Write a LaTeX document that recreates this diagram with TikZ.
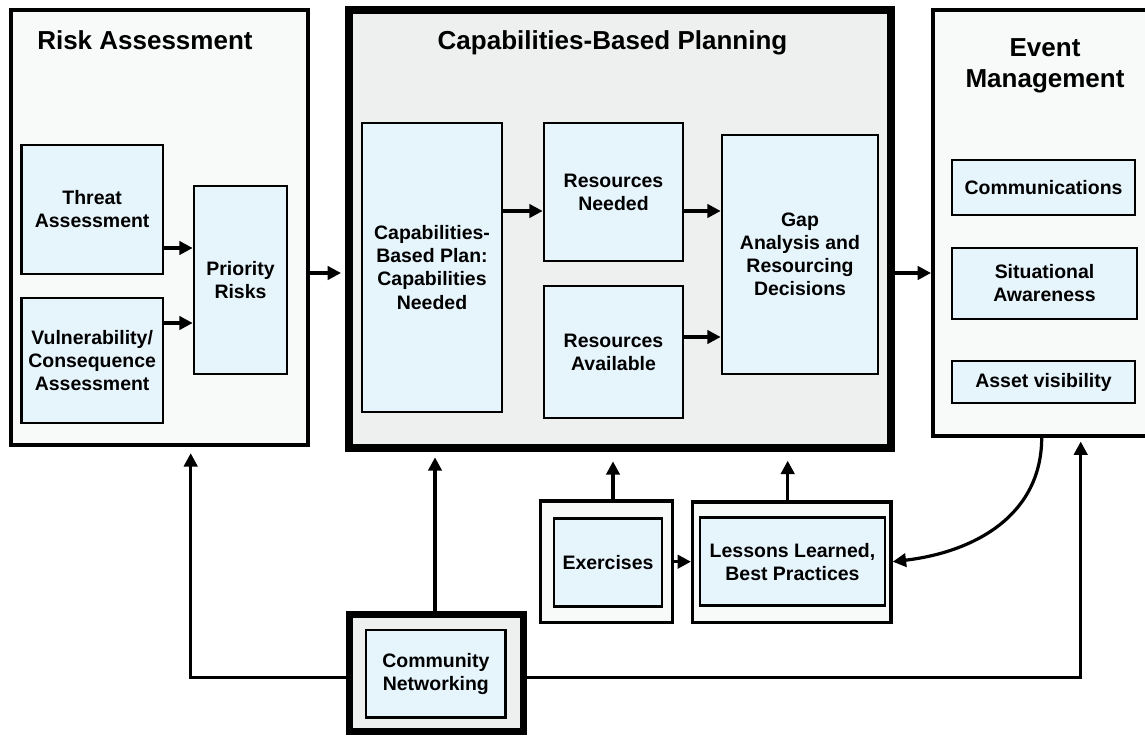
\documentclass[tikz,border=0pt]{standalone}
\usepackage{fontspec}
\setmainfont{Liberation Sans}
\usetikzlibrary{arrows.meta,fit}
\definecolor{inblue}{RGB}{230,244,252}
\definecolor{palegrey}{RGB}{248,249,249}
\definecolor{midgrey}{RGB}{238,239,239}
\newcommand{\ttlfnt}{\bfseries\fontsize{19.5pt}{23.25pt}\selectfont}
\newcommand{\boxfnt}{\bfseries\fontsize{14.6pt}{17.3pt}\selectfont}
\begin{document}
\begin{tikzpicture}[x=0.75pt,y=-0.75pt,
  inbox/.style={draw=black, fill=inblue, line width=2pt, inner sep=0pt},
  boxtxt/.style={inner sep=0pt, align=center, font=\boxfnt},
  palebox/.style={draw=black, fill=palegrey, inner sep=0pt},
  midbox/.style={draw=black, fill=midgrey, inner sep=0pt},
  ttl/.style={inner sep=0pt, align=center, font=\ttlfnt},
  arr/.style={line width=2.4pt, -{Triangle[length=10pt,width=10pt]}}]
\useasboundingbox (0,0) rectangle (1145,735);
\clip (0,0) rectangle (1145,735);
\fill[white] (0,0) rectangle (1145,735);

% Risk Assessment
\node[palebox, line width=3pt, fit={(10.5,10.5)(307.5,444.5)}] (ra) {};
\node[ttl, anchor=base west] (rat) at (37,50) {Risk Assessment};
\node[inbox, fit={(21.3,145)(163,274)}] (ta) {};
\node[boxtxt] (tat) at (ta) {Threat\\Assessment};
\node[inbox, fit={(21.3,298)(163,423)}] (va) {};
\node[boxtxt] (vat) at (va) {Vulnerability/\\Consequence\\Assessment};
\node[inbox, fit={(194,186)(287,374)}] (pr) {};
\node[boxtxt] (prt) at (pr) {Priority\\Risks};

% Capabilities-Based Planning
\node[midbox, line width=6pt, fit={(349,10)(891,448)}] (cbp) {};
\node[ttl, anchor=base] (cbpt) at (612.5,50) {Capabilities-Based Planning};
\node[inbox, fit={(362,123)(502,412)}] (cp) {};
\node[boxtxt] (cpt) at (cp) {Capabilities-\\Based Plan:\\Capabilities\\Needed};
\node[inbox, fit={(544,123)(683,261)}] (rn) {};
\node[boxtxt] (rnt) at (rn) {Resources\\Needed};
\node[inbox, fit={(544,286)(683,418)}] (rav) {};
\node[boxtxt] (ravt) at (rav) {Resources\\Available};
\node[inbox, fit={(722,135)(878,374)}] (gap) {};
\node[boxtxt] (gapt) at (gap) {Gap\\Analysis and\\Resourcing\\Decisions};

% Event Management
\node[palebox, line width=3pt, fit={(933,10)(1152,435.5)}] (ev) {};
\node[ttl] (evt) at (1045,66) {Event\\Management};
\node[inbox, fit={(952,160)(1135,215)}] (com) {};
\node[boxtxt] (comt) at (com) {Communications};
\node[inbox, fit={(952,248)(1137,319)}] (sa) {};
\node[boxtxt] (sat) at (sa) {Situational\\Awareness};
\node[inbox, fit={(952,361)(1135,403)}] (av) {};
\node[boxtxt] (avt) at (av) {Asset visibility};

% Bottom boxes
\node[midbox, line width=5.25pt, fit={(349.5,614.5)(523.5,731.5)}] (cno) {};
\node[inbox, fit={(366,630)(505.7,717.7)}] (cn) {};
\node[boxtxt] (cnt) at (cn) {Community\\Networking};
\node[palebox, line width=2.6pt, fit={(540.7,501)(672.7,622.5)}] (exo) {};
\node[inbox, fit={(554,518.7)(662,606.7)}] (ex) {};
\node[boxtxt] (ext) at (ex) {Exercises};
\node[palebox, line width=2.6pt, fit={(692.7,502)(891,622.7)}] (loo) {};
\node[inbox, fit={(700,517.7)(885,605.7)}] (lo) {};
\node[boxtxt] (lot) at (lo) {Lessons Learned,\\Best Practices};

% Arrows
\draw[arr] (ta.east |- 0,248) -- (pr.west |- 0,248);
\draw[arr] (va.east |- 0,323) -- (pr.west |- 0,323);
\draw[arr, shorten >=3pt] (ra.east |- 0,273) -- (cbp.west |- 0,273);
\draw[arr] (cp.east |- 0,211) -- (rn.west |- 0,211);
\draw[arr] (rn.east |- 0,211) -- (gap.west |- 0,211);
\draw[arr] (rav.east |- 0,337) -- (gap.west |- 0,337);
\draw[arr] (cbp.east |- 0,273) -- (ev.west |- 0,273);
\draw[arr, shorten >=4pt] (cno.north -| 435,0) -- (cbp.south -| 435,0);
\draw[arr, shorten >=7pt] (exo.north -| 613,0) -- (cbp.south -| 613,0);
\draw[arr, shorten >=6.5pt] (loo.north -| 787.7,0) -- (cbp.south -| 787.7,0);
\draw[arr] (exo.east |- 0,561.7) -- (loo.west |- 0,561.7);
\draw[arr, shorten >=5pt] (cno.west |- 0,677.3) -| (ra.south -| 190.7,0);
\draw[arr, shorten >=3pt] (cno.east |- 0,677.3) -| (ev.south -| 1080.7,0);
\draw[arr] (ev.south -| 1041.7,0) .. controls (1041.7,515) and (975,552) .. (loo.east |- 0,561.7);
\end{tikzpicture}
\end{document}
